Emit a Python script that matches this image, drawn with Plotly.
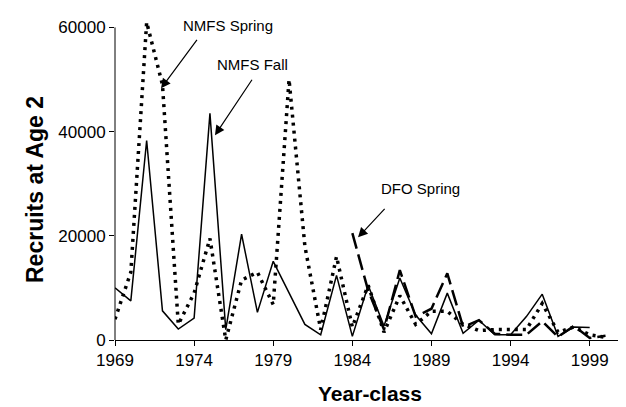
import plotly.graph_objects as go

years = list(range(1969, 2001))

nmfs_spring = [4000, 13000, 61000, 49000, 3000, 9000, 19500, 0, 11500, 13000,
               6800, 50000, 18000, 2000, 16000, 2500, 10500, 1500, 8500, 3000,
               5500, 5500, 3000, 1800, 2000, 2000, 2000, 7000, 1500, 2500,
               1000, 500]

fall_years = list(range(1969, 2000))
nmfs_fall = [10000, 7500, 38300, 5600, 2100, 4200, 43500, 2000, 20300, 5300,
             15100, 9000, 3000, 1000, 12400, 700, 10500, 2700, 11900, 4800,
             1200, 9000, 1300, 3800, 1000, 1000, 4500, 8800, 700, 2500,
             2400]

dfo_years = list(range(1984, 2001))
dfo_spring = [20500, 9500, 2000, 13400, 4500, 6000, 12800, 2500, 3800, 1200,
              1000, 1000, 3600, 600, 2700, 400, 800]

x_ticks = [1969, 1974, 1979, 1984, 1989, 1994, 1999]
y_ticks = [0, 20000, 40000, 60000]
y_tick_labels = ["0", "20000", "40000", "60000"]

fig = go.Figure()
fig.add_trace(go.Scatter(x=years, y=nmfs_spring, mode="lines", name="NMFS Spring",
                         line=dict(color="black", width=3.5, dash="3px,5px")))
fig.add_trace(go.Scatter(x=fall_years, y=nmfs_fall, mode="lines", name="NMFS Fall",
                         line=dict(color="black", width=1.5)))
fig.add_trace(go.Scatter(x=dfo_years, y=dfo_spring, mode="lines", name="DFO Spring",
                         line=dict(color="black", width=2.5, dash="16px,6px")))

font = "Liberation Sans, Arial, sans-serif"

fig.update_layout(
    width=626, height=407,
    margin=dict(l=107, r=0, t=9, b=75),
    paper_bgcolor="white", plot_bgcolor="white",
    showlegend=False,
    font=dict(family=font, size=17, color="black"),
    xaxis=dict(range=[1969, 2001.8], tickvals=x_ticks, ticks="outside", ticklen=5,
               tickcolor="black", showgrid=False, zeroline=False, showline=True,
               linecolor="black", linewidth=1, tickfont=dict(size=17)),
    yaxis=dict(range=[0, 62000], tickvals=y_ticks, ticktext=y_tick_labels,
               ticks="outside", ticklen=5,
               tickcolor="black", showgrid=False, zeroline=False, showline=False,
               tickfont=dict(size=17)),
)

# y axis line up to the top tick only
fig.add_shape(type="line", xref="paper", yref="y", x0=0, x1=0, y0=0, y1=60000,
              line=dict(color="black", width=1))

# axis titles
fig.add_annotation(text="<b>Year-class</b>", xref="paper", yref="paper",
                   x=(362 - 107) / 519, y=-(385 - 332) / 323, showarrow=False,
                   font=dict(size=21), xanchor="center", yanchor="middle")
fig.add_annotation(text="<b>Recruits at Age 2</b>", xref="paper", yref="paper",
                   x=-(107 - 27) / 519, y=(332 - 182) / 323, showarrow=False,
                   font=dict(size=23), textangle=-90, xanchor="center", yanchor="middle")

# labels
fig.add_annotation(text="NMFS Spring", xref="paper", yref="paper",
                   x=(220 - 107) / 519, y=(332 - 18) / 323, showarrow=False,
                   font=dict(size=15), xanchor="center", yanchor="middle")
fig.add_annotation(text="NMFS Fall", xref="paper", yref="paper",
                   x=(244 - 107) / 519, y=(332 - 56) / 323, showarrow=False,
                   font=dict(size=15), xanchor="center", yanchor="middle")
fig.add_annotation(text="DFO Spring", xref="paper", yref="paper",
                   x=(412 - 107) / 519, y=(332 - 181) / 323, showarrow=False,
                   font=dict(size=15), xanchor="center", yanchor="middle")

# arrows
for tx, ty, ax, ay in [(1971.91, 48300, 37, -50), (1975.32, 39300, 38, -57),
                       (1984.36, 19700, 28, -30)]:
    fig.add_annotation(x=tx, y=ty, xref="x", yref="y", text="", showarrow=True,
                       ax=ax, ay=ay, arrowhead=2, arrowsize=1.6, arrowwidth=1.2,
                       arrowcolor="black", standoff=0)

fig.write_html("out.html")
